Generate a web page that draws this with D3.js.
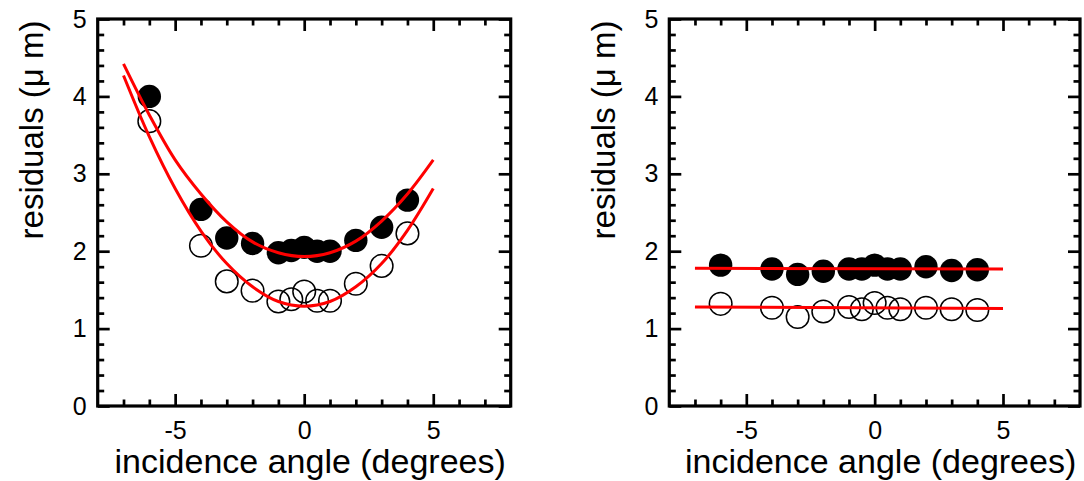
<!DOCTYPE html>
<html>
<head>
<meta charset="utf-8">
<script src="https://cdn.jsdelivr.net/npm/d3@7"></script>
<style>
  body { margin: 0; background: #fff; }
  text { font-family: "Liberation Sans", Arial, Helvetica, sans-serif; fill: #000; }
</style>
</head>
<body>
<svg id="chart" width="1084" height="481"></svg>
<script>
// incidence angles (degrees) of the measurements
var angles = [-6, -4, -3, -2, -1, -0.5, 0, 0.5, 1, 2, 3, 4];

// left panel residuals (um)
var leftFilled = [4.00, 2.54, 2.17, 2.10, 1.98, 2.01, 2.05, 2.00, 2.00, 2.14, 2.31, 2.66];
var leftOpen   = [3.68, 2.07, 1.61, 1.49, 1.35, 1.38, 1.48, 1.36, 1.36, 1.58, 1.81, 2.23];

// right panel residuals (um)
var rightFilled = [1.82, 1.77, 1.70, 1.74, 1.77, 1.77, 1.82, 1.77, 1.77, 1.80, 1.75, 1.76];
var rightOpen   = [1.32, 1.27, 1.15, 1.22, 1.28, 1.25, 1.33, 1.27, 1.25, 1.27, 1.25, 1.24];

// fitted curves
var fitAngles     = [-7, -6, -5, -4, -3, -2, -1, 0, 1, 2, 3, 4, 5];
var leftFilledFit = [4.42, 3.76, 3.18, 2.74, 2.38, 2.12, 1.98, 1.93, 1.98, 2.13, 2.39, 2.74, 3.18];
var leftOpenFit   = [4.27, 3.48, 2.81, 2.26, 1.84, 1.54, 1.35, 1.29, 1.35, 1.54, 1.84, 2.27, 2.81];

var flatAngles     = [-7, 5];
var rightFilledFit = [1.78, 1.77];
var rightOpenFit   = [1.28, 1.26];

var xTicks = [-5, 0, 5];
var yTicks = [0, 1, 2, 3, 4, 5];

var svg = d3.select("#chart");
var top_ = 19, bottom = 406;

var drawPanel = function(x0, x1, filled, open, fx, fFilled, fOpen, labelX) {
  var x = d3.scaleLinear().domain([-8, 8]).range([x0, x1]);
  var y = d3.scaleLinear().domain([0, 5]).range([bottom, top_]);
  var g = svg.append("g");

  var xMinor = d3.range(-7, 8).filter(function(d) { return xTicks.indexOf(d) < 0; });
  var yMinor = d3.range(0, 26).map(function(d) { return d / 5; })
      .filter(function(d) { return Math.abs(d - Math.round(d)) > 1e-6; });

  var axes = [
    { a: d3.axisBottom(x), t: "translate(0," + bottom + ")", major: xTicks, minor: xMinor, lab: true, v: false },
    { a: d3.axisTop(x), t: "translate(0," + top_ + ")", major: xTicks, minor: xMinor, lab: false, v: false },
    { a: d3.axisLeft(y), t: "translate(" + x0 + ",0)", major: yTicks, minor: yMinor, lab: true, v: true },
    { a: d3.axisRight(y), t: "translate(" + x1 + ",0)", major: yTicks, minor: yMinor, lab: false, v: true }
  ];

  axes.forEach(function(ax) {
    var minorG = g.append("g").attr("transform", ax.t)
        .call(ax.a.tickValues(ax.minor).tickSizeInner(-6.5).tickSizeOuter(0).tickFormat(""));
    minorG.select(".domain").remove();
    minorG.selectAll("text").remove();
    var majorG = g.append("g").attr("transform", ax.t)
        .call(ax.a.tickValues(ax.major).tickSizeInner(-12).tickSizeOuter(0)
          .tickPadding(ax.v ? 11 : 15)
          .tickFormat(function(d) { return String(d); }));
    majorG.select(".domain").remove();
    if (!ax.lab) majorG.selectAll("text").remove();
    majorG.selectAll("text").attr("font-size", 25).attr("font-family", null);
  });
  g.selectAll(".tick line").attr("stroke", "#000").attr("stroke-width", 2.7);

  // frame
  g.append("rect")
      .attr("x", x0).attr("y", top_)
      .attr("width", x1 - x0).attr("height", bottom - top_)
      .attr("fill", "none").attr("stroke", "#000").attr("stroke-width", 3.2);

  var pts = angles.map(function(a, i) { return { x: a, f: filled[i], o: open[i] }; });

  g.append("g").selectAll("circle.open")
      .data(pts).enter().append("circle")
      .attr("class", "open")
      .attr("cx", function(d) { return x(d.x); })
      .attr("cy", function(d) { return y(d.o); })
      .attr("r", 11.3)
      .attr("fill", "none")
      .attr("stroke", "#000")
      .attr("stroke-width", 1.5);

  g.append("g").selectAll("circle.filled")
      .data(pts).enter().append("circle")
      .attr("class", "filled")
      .attr("cx", function(d) { return x(d.x); })
      .attr("cy", function(d) { return y(d.f); })
      .attr("r", 11.7)
      .attr("fill", "#000");

  var line = d3.line()
      .x(function(d) { return x(d[0]); })
      .y(function(d) { return y(d[1]); })
      .curve(d3.curveCatmullRom);

  [fFilled, fOpen].forEach(function(vals) {
    g.append("path")
        .datum(fx.map(function(a, i) { return [a, vals[i]]; }))
        .attr("d", line)
        .attr("fill", "none")
        .attr("stroke", "#ff0000")
        .attr("stroke-width", 3);
  });

  // axis titles
  g.append("text")
      .attr("x", (x0 + x1) / 2 + 6)
      .attr("y", 473)
      .attr("text-anchor", "middle")
      .attr("font-size", 34)
      .text("incidence angle (degrees)");

  g.append("text")
      .attr("transform", "translate(" + labelX + ",130) rotate(-90)")
      .attr("text-anchor", "middle")
      .attr("font-size", 33)
      .text("residuals (\u03bc m)");
};

drawPanel(97.7, 510.7, leftFilled, leftOpen, fitAngles, leftFilledFit, leftOpenFit, 43);
drawPanel(669.3, 1080, rightFilled, rightOpen, flatAngles, rightFilledFit, rightOpenFit, 615);
</script>
</body>
</html>
